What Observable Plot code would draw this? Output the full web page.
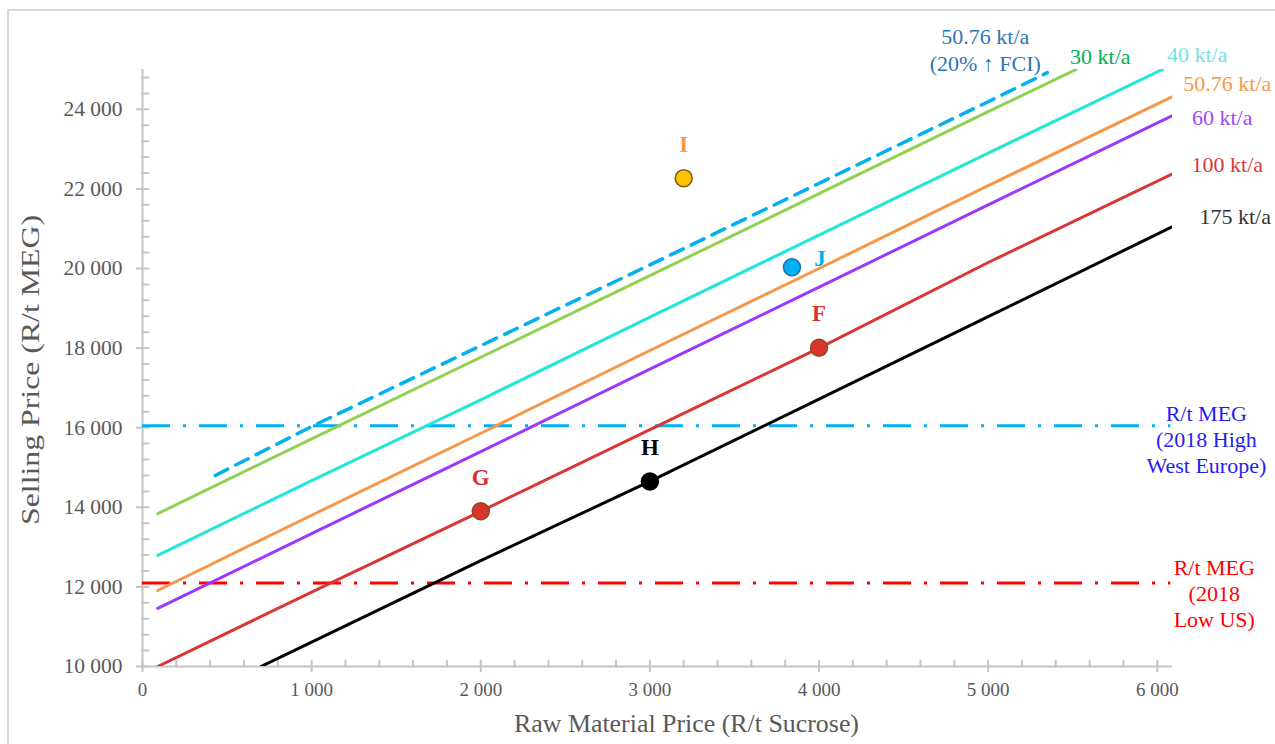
<!DOCTYPE html>
<html><head><meta charset="utf-8">
<script src="https://cdn.jsdelivr.net/npm/d3@7"></script>
<script src="https://cdn.jsdelivr.net/npm/@observablehq/plot@0.6"></script>
<style>
html,body{margin:0;padding:0;background:#fff;overflow:hidden;}
#wrap{position:relative;width:1275px;height:744px;overflow:hidden;}
#border{position:absolute;left:7px;top:9px;width:1400px;height:900px;border:2px solid #d9d9d9;pointer-events:none;}
svg{display:block;position:absolute;left:0;top:0;}
</style></head><body><div id="wrap"><div id="border"></div></div>
<script>
// ---- data ----
const xMajorTicks = [0, 1000, 2000, 3000, 4000, 5000, 6000];
const yMajorTicks = [10000, 12000, 14000, 16000, 18000, 20000, 22000, 24000];
const xMinorTicks = d3.range(0, 6001, 200);
const yMinorTicks = d3.range(10000, 24801, 400);

const seriesNames = ["30 kt/a", "40 kt/a", "50.76 kt/a", "60 kt/a", "100 kt/a", "175 kt/a", "50.76 kt/a (20% ↑ FCI)"];
const x30 = [90, 1000, 2000, 3000, 4000, 5000, 5520];
const y30 = [13840, 15720, 17770, 19820, 21880, 23940, 25000];
const x40 = [90, 1000, 2000, 3000, 4000, 5000, 6030];
const y40 = [12790, 14670, 16700, 18780, 20840, 22900, 25000];
const x5076 = [90, 1000, 2000, 3000, 4000, 5000, 6090];
const y5076 = [11910, 13800, 15860, 17940, 20000, 22080, 24320];
const x60 = [90, 1000, 2000, 3000, 4000, 5000, 6090];
const y60 = [11460, 13340, 15400, 17470, 19530, 21600, 23840];
const x100 = [90, 1000, 2000, 3000, 4000, 5000, 6090];
const y100 = [10000, 11870, 13900, 15950, 18000, 20150, 22380];
const x175 = [700, 1000, 2000, 3000, 4000, 5000, 6090];
const y175 = [10000, 10610, 12660, 14650, 16720, 18790, 21050];
const xFci = [430, 1000, 2000, 3000, 4000, 5000, 5350];
const yFci = [14800, 16030, 18060, 20090, 22140, 24190, 24920];

const megHighWestEurope = 16050;
const megLowUS = 12100;

const pointNames = ["I", "J", "F", "G", "H"];
const pointX = [3200, 3840, 4000, 2000, 3000];
const pointY = [22270, 20030, 18010, 13900, 14650];

const lineLabels = ["50.76 kt/a\n(20% ↑ FCI)", "30 kt/a", "40 kt/a", "50.76 kt/a", "60 kt/a", "100 kt/a", "175 kt/a",
  "R/t MEG\n(2018 High\nWest Europe)", "R/t MEG\n(2018\nLow US)"];
const lineLabelX = [4983, 5663, 6236, 6414, 6384, 6414, 6461, 6290, 6337];
const lineLabelY = [25515, 25352, 25402, 24673, 23819, 22638, 21332, 15729, 11859];

const yTitle = "Selling Price (R/t MEG)";
const xTitle = "Raw Material Price (R/t Sucrose)";

// ---- styles ----
const lineColors = ["#92D050", "#22E6D6", "#F79646", "#9B38FF", "#D93636", "#000000", "#00B0F0"];
const labelColors = ["#2E75B6", "#00B050", "#6FE3E8", "#F79646", "#A347FF", "#D93838", "#333333", "#1F1FF5", "#FF0000"];
const pointFill = ["#FFC000", "#00B0F0", "#D9342B", "#D9342B", "#000000"];
const pointStroke = ["#7F5A1E", "#1D6FA5", "#8B4A1C", "#8B4A1C", "#000000"];
const pointLabelColor = ["#F79646", "#00B0F0", "#D9342B", "#D9342B", "#000000"];

const xs = [x30, x40, x5076, x60, x100, x175, xFci];
const ys = [y30, y40, y5076, y60, y100, y175, yFci];
const lineRows = seriesNames.map((s, i) => xs[i].map((x, j) => ({series: s, x, y: ys[i][j]})));
const points = pointNames.map((n, i) => ({name: n, x: pointX[i], y: pointY[i], fill: pointFill[i], stroke: pointStroke[i], color: pointLabelColor[i]}));
const labels = lineLabels.map((t, i) => ({text: t, x: lineLabelX[i], y: lineLabelY[i], color: labelColors[i]}));

const axisGray = "#c4c4c4";
const textGray = "#595959";
const fmt = d => d3.format(",")(d).replace(/,/g, " ");
const tickShape = {draw(ctx, l) { ctx.moveTo(0, 0); ctx.lineTo(0, -l); }};

const lineMarks = lineRows.map((rows, i) => Plot.line(rows, {
  x: "x", y: "y", stroke: lineColors[i],
  strokeWidth: i === 6 ? 3.5 : 3,
  strokeDasharray: i === 6 ? "14 9" : null,
  clip: true
}));

const chart = Plot.plot({
  width: 1275, height: 744,
  marginLeft: 142, marginRight: 103, marginTop: 69, marginBottom: 78,
  x: {domain: [0, 6090], axis: null},
  y: {domain: [10000, 25000], axis: null},
  style: {fontFamily: "'Liberation Serif', 'Times New Roman', serif", background: "transparent", overflow: "visible"},
  marks: [
    Plot.ruleX([0], {stroke: axisGray, strokeWidth: 2}),
    Plot.ruleY([10000], {stroke: axisGray, strokeWidth: 2}),
    Plot.axisX({ticks: xMajorTicks, tickSize: 6, tickPadding: 10, tickFormat: fmt, stroke: axisGray, strokeWidth: 2, fill: textGray, fontSize: 19, label: null}),
    Plot.axisY({ticks: yMajorTicks, tickSize: 6, tickPadding: 14, tickFormat: fmt, stroke: axisGray, strokeWidth: 2, fill: textGray, fontSize: 21.5, label: null}),
    Plot.vector(xMinorTicks, {x: d => d, frameAnchor: "bottom", length: 6, rotate: 0, anchor: "start", shape: tickShape, stroke: axisGray, strokeWidth: 2}),
    Plot.vector(yMinorTicks, {y: d => d, frameAnchor: "left", length: 6, rotate: 90, anchor: "start", shape: tickShape, stroke: axisGray, strokeWidth: 2}),
    Plot.text([yTitle], {frameAnchor: "left", textAnchor: "middle", lineAnchor: "middle", dx: -112, dy: 2, rotate: -90, fill: textGray, fontSize: 25}),
    Plot.text([xTitle], {frameAnchor: "bottom", textAnchor: "middle", lineAnchor: "middle", dx: 29, dy: 57, fill: textGray, fontSize: 25}),
    Plot.ruleY([megHighWestEurope], {x1: 0, x2: 6080, stroke: "#00B0F0", strokeWidth: 3, strokeDasharray: "28 13 3 13"}),
    Plot.ruleY([megLowUS], {x1: 0, x2: 6080, stroke: "#FF0000", strokeWidth: 3, strokeDasharray: "28 13 3 13"}),
    ...lineMarks,
    Plot.dot(points, {x: "x", y: "y", r: 8.5, fill: "fill", stroke: "stroke", strokeWidth: 1.5}),
    Plot.text(points.filter(d => d.name !== "J"), {x: "x", y: "y", text: "name", dy: -34, fill: "color", fontSize: 23, fontWeight: "bold"}),
    Plot.text(points.filter(d => d.name === "J"), {x: "x", y: "y", text: "name", dx: 28, dy: -9, fill: "color", fontSize: 23, fontWeight: "bold"}),
    Plot.text(labels, {x: "x", y: "y", text: "text", fill: "color", fontSize: 22, lineHeight: 1.2})
  ]
});
// stretch the axis titles to the lengths seen in the reference
d3.select(chart).selectAll("text").each(function() {
  const t = this.textContent;
  if (t === yTitle) d3.select(this).attr("textLength", 310).attr("lengthAdjust", "spacingAndGlyphs");
  if (t === xTitle) d3.select(this).attr("textLength", 345).attr("lengthAdjust", "spacingAndGlyphs");
});
document.getElementById("wrap").appendChild(chart);
</script>
</body></html>
